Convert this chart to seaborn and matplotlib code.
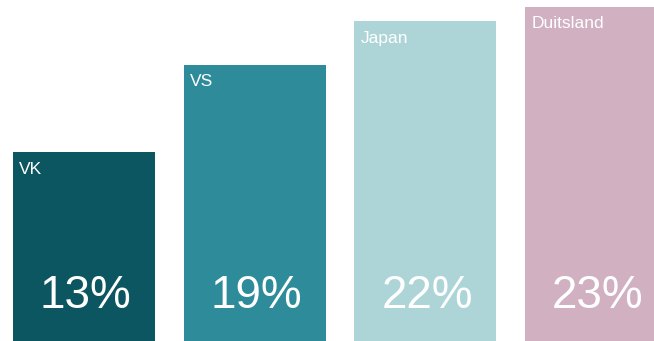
import matplotlib
matplotlib.use("Agg")
import matplotlib.pyplot as plt
import seaborn as sns
import pandas as pd

# share per country
countries = ["VK", "VS", "Japan", "Duitsland"]
shares = [13, 19, 22, 23]
colors = ["#0b5660", "#2e8b9a", "#add5d8", "#d0b0c1"]

df = pd.DataFrame({"land": countries, "aandeel": shares})

sns.set_style("white")
plt.rcParams["font.family"] = ["Liberation Sans", "DejaVu Sans"]

fig = plt.figure(figsize=(6.54, 3.41), dpi=100)
ax = fig.add_axes([0, 0, 1, 1])

bw = 0.832
sns.barplot(data=df, x="land", y="aandeel", hue="land", palette=colors,
            width=bw, dodge=False, legend=False, saturation=1, linewidth=0,
            ax=ax)

ax.set_xlim(-0.492, 3.34)
ax.set_ylim(0, 23.45)
ax.axis("off")

for i, (c, v) in enumerate(zip(countries, shares)):
    ax.annotate(c, (i - bw / 2, v), xytext=(4.5, -7), textcoords="offset points",
                ha="left", va="top", color="white", fontsize=12.5)
    ax.text(i + 0.01, 2.27, f"{v}%", ha="center", va="baseline", color="white",
            fontsize=33)

fig.savefig("out.png", dpi=100)
